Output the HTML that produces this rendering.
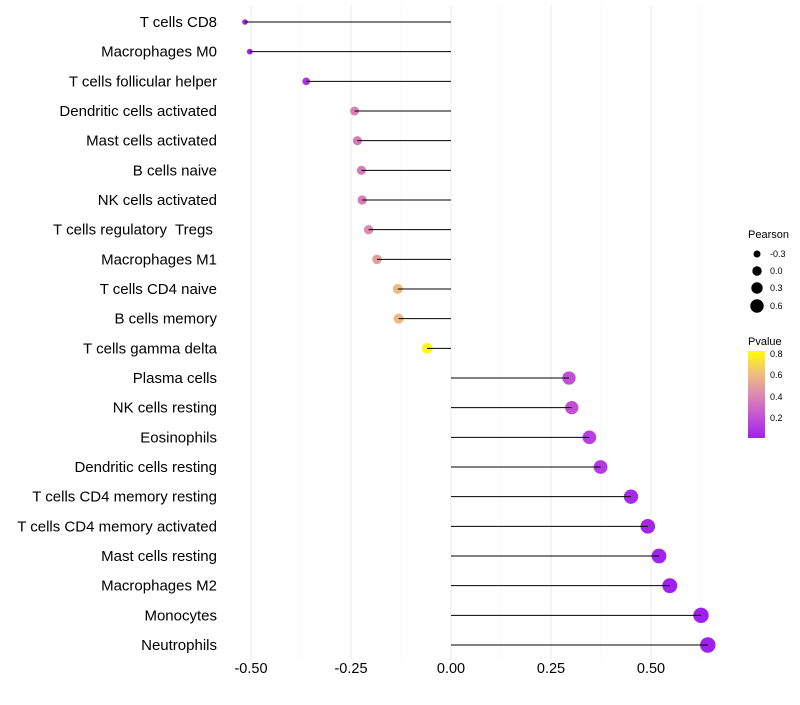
<!DOCTYPE html>
<html><head><meta charset="utf-8"><style>
body{margin:0;background:#fff;font-family:"Liberation Sans",sans-serif}
text{white-space:pre}
</style></head><body>
<svg id="chart" width="800" height="700" xmlns="http://www.w3.org/2000/svg">
<defs><linearGradient id="pg" x1="0" y1="1" x2="0" y2="0">
<stop offset="0" stop-color="#a020f0"/><stop offset="0.25" stop-color="#c453d4"/><stop offset="0.5" stop-color="#dc8aae"/><stop offset="0.75" stop-color="#f0bf7c"/><stop offset="1" stop-color="#ffff00"/></linearGradient></defs>
<g id="grid"></g><g id="marks"></g><g id="ylabels"></g><g id="xlabels"></g>
<g font-size="9" fill="#000">
<text x="748" y="238" font-size="11">Pearson</text>
<circle cx="757" cy="254" r="3.5"/><text x="770" y="257">-0.3</text>
<circle cx="757" cy="271" r="4.7"/><text x="770" y="274">0.0</text>
<circle cx="757" cy="288" r="5.7"/><text x="770" y="291">0.3</text>
<circle cx="757" cy="306" r="6.7"/><text x="770" y="309">0.6</text>
</g>
<g font-size="9" fill="#000">
<text x="748" y="345" font-size="11">Pvalue</text>
<rect x="748" y="351" width="17" height="87" fill="url(#pg)"/>
<text x="770" y="357">0.8</text><text x="770" y="378">0.6</text><text x="770" y="400">0.4</text><text x="770" y="421">0.2</text>
</g>
</svg>
<script>
const categories=["T cells CD8","Macrophages M0","T cells follicular helper","Dendritic cells activated","Mast cells activated","B cells naive","NK cells activated","T cells regulatory  Tregs ","Macrophages M1","T cells CD4 naive","B cells memory","T cells gamma delta","Plasma cells","NK cells resting","Eosinophils","Dendritic cells resting","T cells CD4 memory resting","T cells CD4 memory activated","Mast cells resting","Macrophages M2","Monocytes","Neutrophils"];
const pearson=[-0.515,-0.503,-0.362,-0.241,-0.234,-0.224,-0.222,-0.206,-0.185,-0.133,-0.131,-0.06,0.295,0.302,0.346,0.374,0.45,0.492,0.52,0.547,0.625,0.642];
const pvalue=[0.01,0.01,0.1,0.38,0.36,0.37,0.37,0.42,0.5,0.6,0.6,0.83,0.2,0.2,0.15,0.12,0.06,0.04,0.03,0.02,0.01,0.01];
const xticks=[-0.5,-0.25,0,0.25,0.5];
const xtickLabels=["-0.50","-0.25","0.00","0.25","0.50"];
const NS="http://www.w3.org/2000/svg";
const xs=v=>451+v*400;
const ys=i=>22+i*(623/21);
const stops=[[0,[160,32,240]],[0.25,[196,83,212]],[0.5,[220,138,174]],[0.75,[240,191,124]],[1,[255,255,0]]];
function col(p){let t=Math.max(0,Math.min(1,(p-0.02)/0.8));for(let k=1;k<stops.length;k++){if(t<=stops[k][0]){const a=stops[k-1],b=stops[k];const f=(t-a[0])/(b[0]-a[0]);return "rgb("+a[1].map((c,j)=>Math.round(c+(b[1][j]-c)*f)).join(",")+")";}}return "rgb(255,255,0)";}
function el(tag,attrs,parent){const e=document.createElementNS(NS,tag);for(const k in attrs)e.setAttribute(k,attrs[k]);parent.appendChild(e);return e;}
const grid=document.getElementById('grid'),marks=document.getElementById('marks'),yl=document.getElementById('ylabels'),xl=document.getElementById('xlabels');
[-0.375,-0.125,0.125,0.375,0.625].forEach(v=>{const g=el('line',{x1:xs(v),x2:xs(v),y1:5,y2:660,stroke:'#f7f7f7','stroke-width':1},grid);});
xticks.forEach((v,i)=>{const g=el('line',{x1:xs(v),x2:xs(v),y1:5,y2:660,stroke:'#ebebeb','stroke-width':1},grid);
const t=el('text',{x:xs(v),y:673,'text-anchor':'middle','font-size':14.5,fill:'#000'},xl);t.textContent=xtickLabels[i];});
categories.forEach((c,i)=>{const y=ys(i);
const t=el('text',{x:217,y:y+5,'text-anchor':'end','font-size':15,fill:'#000'},yl);t.textContent=c;
const r=Math.sqrt(Math.max(2.5,31+45*pearson[i]));
const ci=el('circle',{cx:xs(pearson[i]),cy:y,r:r,fill:col(pvalue[i])},marks);
const l=el('line',{x1:xs(0),x2:xs(pearson[i]),y1:y,y2:y,stroke:'#000','stroke-width':1},marks);});
</script>
</body></html>
